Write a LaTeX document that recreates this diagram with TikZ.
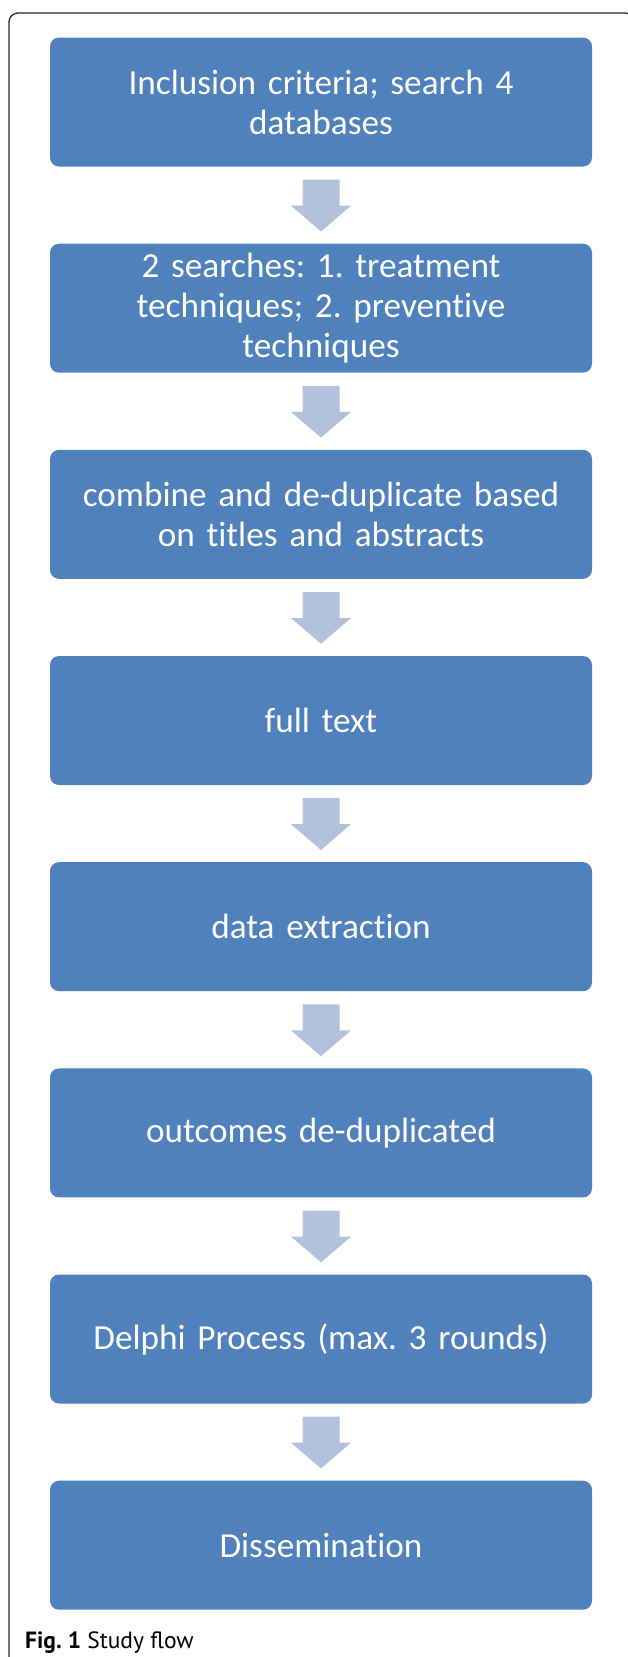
\documentclass[tikz,border=0pt]{standalone}
\usepackage{fontspec}
\setmainfont{Carlito}[Ligatures={NoCommon,NoDiscretionary}]
\newfontfamily\capfont{PT Sans}
\usetikzlibrary{calc}
\definecolor{boxblue}{HTML}{4F81BD}
\definecolor{arrowblue}{HTML}{B3C2DC}
\frenchspacing
\begin{document}
\begin{tikzpicture}[x=1pt,y=-1pt,
  stepbox/.style={fill=boxblue, rounded corners=9pt, minimum width=542pt, minimum height=129pt,
    text width=535pt, align=center, text=white, inner sep=0pt, draw=none,
    font=\fontsize{35.2}{40}\selectfont},
  flowarrow/.style={fill=arrowblue, draw=none},
  framestyle/.style={draw=black!85, line width=1.3pt, rounded corners=9pt}
]
\useasboundingbox (0,0) rectangle (627,1657);
\draw[framestyle] (9,1700) -- (9,13) -- (634,13) -- (634,1700);

\node[stepbox] (b1) at (321,102) {Inclusion criteria; search 4\\databases};
\node[stepbox] (b2) at (321,308.2) {2 searches: 1. treatment\\techniques; 2. preventive\\techniques};
\node[stepbox] (b3) at (321,514.3) {combine and de-duplicate based\\on titles and abstracts};
\node[stepbox] (b4) at (321,720.5) {full text};
\node[stepbox] (b5) at (321,926.7) {data extraction};
\node[stepbox] (b6) at (321,1132.9) {outcomes de-duplicated};
\node[stepbox] (b7) at (321,1339.0) {Delphi Process (max. 3 rounds)};
\node[stepbox] (b8) at (321,1545.2) {Dissemination};

\foreach \a/\b in {b1/b2,b2/b3,b3/b4,b4/b5,b5/b6,b6/b7,b7/b8}{
  \fill[flowarrow] ($(\a.south)+(-18.5,13)$) -- ($(\a.south)+(18.5,13)$) -- ($(\a.south)+(18.5,39)$)
    -- ($(\a.south)+(30,39)$) -- ($(\b.north)+(0,-12)$) -- ($(\a.south)+(-30,39)$)
    -- ($(\a.south)+(-18.5,39)$) -- cycle;
}

\node[anchor=base west, inner sep=0pt, font=\capfont\fontsize{23.5}{28}\selectfont] (cap) at (25,1648) {\textbf{Fig. 1} Study flow};
\end{tikzpicture}
\end{document}
